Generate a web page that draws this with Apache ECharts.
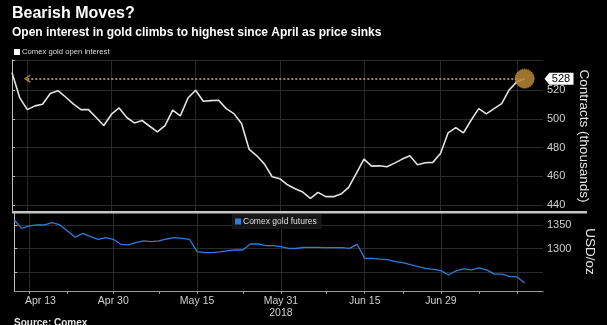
<!DOCTYPE html>
<html>
<head>
<meta charset="utf-8">
<script src="https://cdn.jsdelivr.net/npm/echarts@6/dist/echarts.min.js"></script>
<style>
  html, body { margin: 0; padding: 0; background: #000; }
  #chart { width: 607px; height: 325px; }
</style>
</head>
<body>
<div id="chart"></div>
<script>
// Trading days, Apr 11 - Jul 17 2018
const days = [
  'Apr 11','Apr 12','Apr 13','Apr 16','Apr 17','Apr 18','Apr 19','Apr 20','Apr 23','Apr 24',
  'Apr 25','Apr 26','Apr 27','Apr 30','May 1','May 2','May 3','May 4','May 7','May 8',
  'May 9','May 10','May 11','May 14','May 15','May 16','May 17','May 18','May 21','May 22',
  'May 23','May 24','May 25','May 29','May 30','May 31','Jun 1','Jun 4','Jun 5','Jun 6',
  'Jun 7','Jun 8','Jun 11','Jun 12','Jun 13','Jun 14','Jun 15','Jun 18','Jun 19','Jun 20',
  'Jun 21','Jun 22','Jun 25','Jun 26','Jun 27','Jun 28','Jun 29','Jul 2','Jul 3','Jul 5',
  'Jul 6','Jul 9','Jul 10','Jul 11','Jul 12','Jul 13','Jul 16','Jul 17'
];

// Comex gold open interest, thousands of contracts
const openInterest = [
  532.2, 514.8, 506.4, 509.0, 510.1, 517.6, 519.6, 515.2, 510.4, 506.4,
  506.4, 500.9, 495.3, 503.2, 507.6, 500.9, 497.1, 498.8, 494.8, 490.9,
  495.3, 506.0, 502.0, 514.5, 519.9, 512.2, 512.7, 512.9, 507.1, 503.6,
  496.7, 478.6, 474.2, 468.4, 459.6, 458.2, 454.0, 451.2, 448.9, 444.5,
  448.7, 445.7, 445.7, 447.5, 452.2, 461.9, 471.9, 467.0, 467.2, 466.5,
  469.1, 471.9, 474.2, 467.9, 469.3, 469.6, 475.8, 490.2, 493.9, 490.2,
  499.0, 507.1, 503.4, 507.1, 510.6, 520.3, 525.9, 528
];

// Comex gold futures, USD/oz
const goldFutures = [
  1361, 1343.3, 1348.3, 1350.4, 1350.4, 1355.4, 1350.4, 1337.7, 1324.2, 1332.7,
  1325.6, 1319.9, 1323.5, 1319.9, 1309.3, 1307.9, 1313.5, 1316.4, 1315, 1316.4,
  1320.6, 1323.5, 1322, 1320, 1293.7, 1291.6, 1291.6, 1293, 1295.8, 1297.2,
  1297.2, 1310, 1310, 1306.5, 1306.5, 1304.3, 1300.8, 1300.4, 1302.9, 1302.9,
  1302.9, 1302.2, 1302.2, 1302.2, 1300.8, 1309.3, 1279.5, 1279.5, 1278, 1276.7,
  1272.4, 1270.3, 1266, 1261.8, 1258.2, 1256.1, 1253.3, 1244, 1253, 1257,
  1255, 1259, 1255, 1246, 1246, 1241, 1240, 1227
];

// Axis ticks
const dateLabels = ['Apr 13', 'Apr 30', 'May 15', 'May 31', 'Jun 15', 'Jun 29'];
const gridDates = ['Apr 13', 'Apr 30', 'May 15', 'May 31', 'Jun 15', 'Jun 29', 'Jul 16'];
const minorDates = ['Apr 20', 'May 8', 'May 23', 'Jun 8', 'Jun 22', 'Jul 9'];
const yearLabel = { 'May 31': '2018' };
const oiTicks = [440, 460, 480, 500, 520];
const goldTicks = [1250, 1300, 1350];
const goldLabels = [1300, 1350];

const idx = d => days.indexOf(d);
const lastIdx = openInterest.length - 1;
const lastOI = openInterest[lastIdx];
const X_MAX = 69.4;

const oiData = openInterest.map((v, i) => [i, v]);
const goldData = goldFutures.map((v, i) => [i, v]);

const gridLineStyle = { color: '#2b2b2b', width: 1 };
const font = 'Liberation Sans, Arial, sans-serif';
const plain = v => String(v);

const chart = echarts.init(document.getElementById('chart'), null, { renderer: 'canvas' });

chart.setOption({
  backgroundColor: '#000',
  animation: false,
  textStyle: { fontFamily: font },
  title: {
    text: 'Bearish Moves?',
    subtext: 'Open interest in gold climbs to highest since April as price sinks',
    left: 12, top: 6, padding: 0, itemGap: 5,
    textStyle: { color: '#fff', fontSize: 16, fontWeight: 'bold', fontFamily: font },
    subtextStyle: { color: '#fff', fontSize: 12, fontWeight: 'bold', fontFamily: font }
  },
  legend: [
    {
      data: ['Comex gold open interest'],
      left: 14, top: 48, padding: 0,
      icon: 'rect', itemWidth: 6, itemHeight: 6, itemGap: 2,
      textStyle: { color: '#ddd', fontSize: 7.7, padding: [0, 0, 0, -3] }
    },
    {
      data: ['Comex gold futures'],
      left: 232, top: 214, padding: [3, 5, 3, 3],
      backgroundColor: '#161616',
      icon: 'rect', itemWidth: 6, itemHeight: 6,
      textStyle: { color: '#ddd', fontSize: 8.5, padding: [0, 0, 0, -3] }
    }
  ],
  grid: [
    { left: 12, right: 64, top: 60, height: 152 },
    { left: 12, right: 64, top: 212, height: 79 }
  ],
  xAxis: [
    {
      gridIndex: 0, type: 'value', min: 0, max: X_MAX,
      axisLine: { show: false },
      axisTick: { show: false, customValues: gridDates.map(idx) },
      axisLabel: { show: false },
      splitLine: { show: true, lineStyle: gridLineStyle }
    },
    {
      gridIndex: 1, type: 'value', min: 0, max: X_MAX, position: 'bottom',
      axisLine: { show: true, onZero: false, lineStyle: { color: '#9a9a9a', width: 1 } },
      axisTick: { show: false, customValues: gridDates.map(idx) },
      axisLabel: {
        customValues: dateLabels.map(idx),
        color: '#cfcfcf', fontSize: 10.5, margin: 4, lineHeight: 12,
        formatter: v => {
          const d = days[Math.round(v)];
          if (d === dateLabels[0]) return '{first|' + d + '}';
          return yearLabel[d] ? d + '\n' + yearLabel[d] : d;
        },
        rich: { first: { color: '#cfcfcf', fontSize: 10.5, padding: [0, 0, 0, 22], fontFamily: font } }
      },
      splitLine: { show: true, lineStyle: gridLineStyle }
    },
    {
      gridIndex: 1, type: 'value', min: 0, max: X_MAX, position: 'bottom', offset: 0,
      axisLine: { show: false, onZero: false },
      axisTick: { show: true, length: 3, customValues: gridDates.concat(minorDates).map(idx), lineStyle: { color: '#9a9a9a' } },
      axisLabel: { show: false },
      splitLine: { show: false }
    }
  ],
  yAxis: [
    {
      gridIndex: 0, type: 'value', position: 'right', min: 435, max: 541,
      axisLine: { show: true, lineStyle: { color: '#bdbdbd' } },
      axisTick: { show: true, length: 3, customValues: oiTicks.concat([541]), lineStyle: { color: '#bdbdbd' } },
      axisLabel: { customValues: oiTicks, color: '#d0d0d0', fontSize: 11, margin: 4, formatter: plain },
      splitLine: { show: true, lineStyle: gridLineStyle },
      name: 'Contracts (thousands)', nameLocation: 'middle', nameRotate: -90, nameGap: 30,
      nameTextStyle: { color: '#e6e6e6', fontSize: 13.5 }
    },
    {
      gridIndex: 1, type: 'value', position: 'right', min: 1210, max: 1378,
      axisLine: { show: true, lineStyle: { color: '#bdbdbd' } },
      axisTick: { show: true, length: 3, customValues: goldTicks, lineStyle: { color: '#bdbdbd' } },
      axisLabel: { customValues: goldLabels, color: '#d0d0d0', fontSize: 11, margin: 4, formatter: plain },
      splitLine: { show: true, lineStyle: gridLineStyle },
      name: 'USD/oz', nameLocation: 'middle', nameRotate: -90, nameGap: 30,
      nameTextStyle: { color: '#e6e6e6', fontSize: 13.5 }
    }
  ],
  series: [
    {
      name: 'Comex gold open interest', type: 'line',
      xAxisIndex: 0, yAxisIndex: 0, data: oiData,
      showSymbol: false, symbol: 'none',
      lineStyle: { color: '#e2e2e2', width: 1.6 },
      itemStyle: { color: '#ffffff' },
      z: 3,
      markLine: {
        silent: true,
        symbol: ['path://M0,8 L5,0 L10,8 L8.6,9.4 L5,3.2 L1.4,9.4 Z', 'none'],
        symbolSize: [8, 7],
        label: { show: false },
        lineStyle: { color: '#a48a3a', type: 'dotted', width: 2 },
        data: [[{ coord: [idx('Apr 13'), lastOI] }, { coord: [lastIdx, lastOI] }]]
      },
      markPoint: {
        silent: true,
        data: [
          {
            coord: [lastIdx, lastOI], value: lastOI,
            symbol: 'circle', symbolSize: 19,
            itemStyle: { color: 'rgba(184,134,52,0.85)', borderColor: '#d9a955', borderWidth: 1, borderType: 'dotted' },
            label: { show: false }
          },
          {
            coord: [X_MAX, lastOI], value: lastOI,
            symbol: 'path://M0,6 L5,0 L30,0 L30,12 L5,12 Z',
            symbolSize: [29, 12], symbolOffset: [16, 0],
            itemStyle: { color: '#ffffff' },
            label: { show: true, position: 'inside', offset: [2, 0], color: '#000', fontSize: 11, formatter: '{c}' }
          }
        ]
      }
    },
    {
      name: 'Comex gold futures', type: 'line',
      xAxisIndex: 1, yAxisIndex: 1, data: goldData,
      showSymbol: false, symbol: 'none',
      lineStyle: { color: '#2f7dd6', width: 1.3 },
      itemStyle: { color: '#2f7dd6' },
      z: 3
    }
  ],
  graphic: [
    { type: 'rect', left: 12, top: 211, shape: { width: 575, height: 2.5 }, style: { fill: '#c4c4c4' }, z: 10 },
    { type: 'text', left: 14, top: 318, style: { text: 'Source: Comex', fill: '#e6e6e6', font: 'bold 10px ' + font }, z: 10 }
  ]
});
</script>
</body>
</html>
